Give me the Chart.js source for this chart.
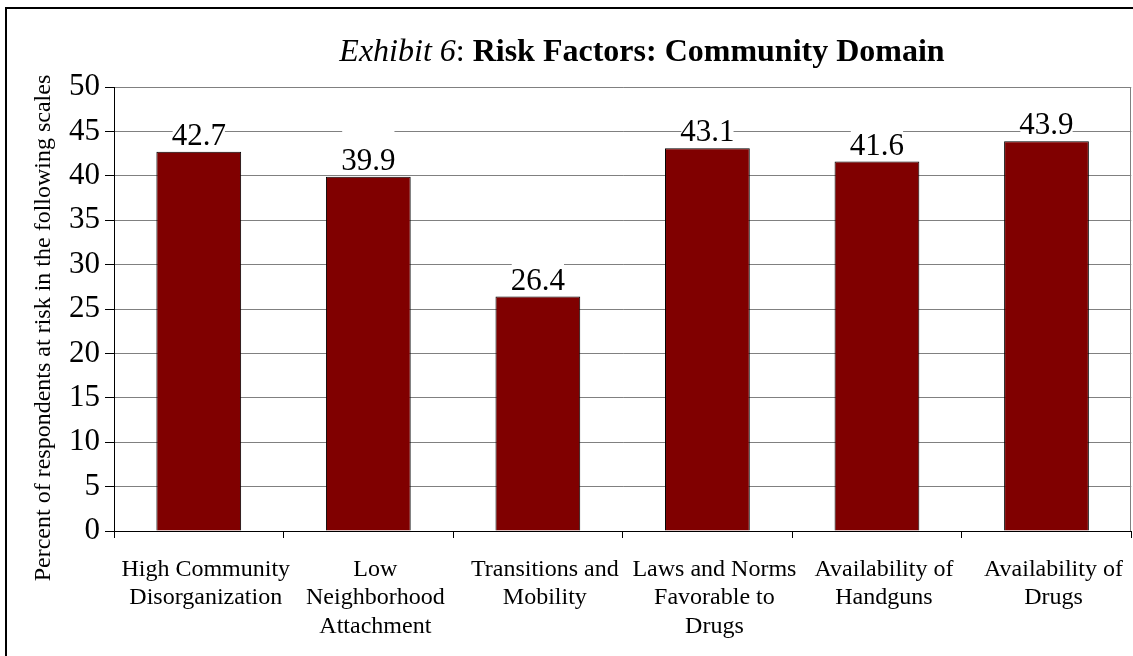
<!DOCTYPE html>
<html>
<head>
<meta charset="utf-8">
<script src="https://cdn.jsdelivr.net/npm/chart.js@4.4.1/dist/chart.umd.min.js"></script>
<style>
  html, body { margin: 0; padding: 0; background: #fff; }
  #wrap { position: relative; width: 1133px; height: 656px; }
</style>
</head>
<body>
<div id="wrap"><canvas id="chart"></canvas></div>
<script>
// Community-domain risk factors: share of respondents at risk on each scale
const categories = [
  ['High Community', 'Disorganization'],
  ['Low', 'Neighborhood', 'Attachment'],
  ['Transitions and', 'Mobility'],
  ['Laws and Norms', 'Favorable to', 'Drugs'],
  ['Availability of', 'Handguns'],
  ['Availability of', 'Drugs']
];
const percentAtRisk = [42.7, 39.9, 26.4, 43.1, 41.6, 43.9];
const yTicks = [0, 5, 10, 15, 20, 25, 30, 35, 40, 45, 50];

const titleItalic = 'Exhibit 6';
const titleSep = ': ';
const titleBold = 'Risk Factors: Community Domain';
const yAxisTitle = 'Percent of respondents at risk in the following scales';

const SERIF = '"Liberation Serif", "Times New Roman", serif';

// Outer frame, mixed-style heading, axis title and plot edge
const decorations = {
  id: 'decorations',
  beforeDraw(chart) {
    const ctx = chart.ctx;
    ctx.save();
    ctx.fillStyle = '#fff';
    ctx.fillRect(0, 0, chart.width, chart.height);
    ctx.strokeStyle = '#000';
    ctx.lineWidth = 2;
    ctx.strokeRect(6, 8, chart.width + 20, chart.height + 20);
    ctx.restore();
  },
  afterDraw(chart) {
    const ctx = chart.ctx;
    const area = chart.chartArea;
    ctx.save();
    // heading
    const fItalic = 'italic 32px ' + SERIF;
    const fReg = '32px ' + SERIF;
    const fBold = 'bold 32px ' + SERIF;
    ctx.font = fItalic; const w1 = ctx.measureText(titleItalic).width;
    ctx.font = fReg; const w2 = ctx.measureText(titleSep).width;
    ctx.font = fBold; const w3 = ctx.measureText(titleBold).width;
    let x = 642 - (w1 + w2 + w3) / 2;
    const y = 61;
    ctx.fillStyle = '#000';
    ctx.textBaseline = 'alphabetic';
    ctx.textAlign = 'left';
    ctx.font = fItalic; ctx.fillText(titleItalic, x, y); x += w1;
    ctx.font = fReg; ctx.fillText(titleSep, x, y); x += w2;
    ctx.font = fBold; ctx.fillText(titleBold, x, y);
    // vertical axis title
    ctx.save();
    ctx.translate(50, 328);
    ctx.rotate(-Math.PI / 2);
    ctx.font = '24px ' + SERIF;
    ctx.textAlign = 'center';
    ctx.fillText(yAxisTitle, 0, 0);
    ctx.restore();
    // right edge of plot
    ctx.strokeStyle = '#808080';
    ctx.lineWidth = 1;
    ctx.beginPath();
    ctx.moveTo(Math.round(area.right) - 0.5, area.top);
    ctx.lineTo(Math.round(area.right) - 0.5, area.bottom);
    ctx.stroke();
    ctx.restore();
  }
};

// Value labels above each bar on a white backing
const valueLabels = {
  id: 'valueLabels',
  afterDatasetsDraw(chart) {
    const ctx = chart.ctx;
    const meta = chart.getDatasetMeta(0);
    ctx.save();
    ctx.font = '31px ' + SERIF;
    ctx.textAlign = 'center';
    ctx.textBaseline = 'alphabetic';
    meta.data.forEach((bar, i) => {
      const txt = percentAtRisk[i].toFixed(1);
      const w = ctx.measureText(txt).width;
      const base = bar.y - 7;
      ctx.fillStyle = '#fff';
      ctx.fillRect(bar.x - w / 2 + 1, base - 42, w - 2, 42 + 5);
      ctx.fillStyle = '#000';
      ctx.fillText(txt, bar.x, base);
    });
    ctx.restore();
  }
};

new Chart(document.getElementById('chart'), {
  type: 'bar',
  data: {
    labels: categories,
    datasets: [{
      data: percentAtRisk,
      backgroundColor: '#800000',
      borderColor: '#000',
      borderWidth: 1,
      barPercentage: 0.5,
      categoryPercentage: 1.0
    }]
  },
  options: {
    responsive: true,
    maintainAspectRatio: false,
    animation: false,
    devicePixelRatio: 1,
    layout: { padding: { top: 87, left: 0, right: 1, bottom: 0 } },
    plugins: {
      legend: { display: false },
      tooltip: { enabled: false },
      title: { display: false }
    },
    scales: {
      x: {
        afterFit(scale) { scale.height = 125; },
        grid: {
          offset: true,
          drawOnChartArea: false,
          drawTicks: true,
          tickLength: 7,
          tickColor: '#000'
        },
        border: { color: '#000', width: 1 },
        ticks: {
          color: '#000',
          padding: 17,
          labelOffset: 7,
          maxRotation: 0,
          autoSkip: false,
          font: { family: SERIF, size: 24, lineHeight: 1.2 }
        }
      },
      y: {
        min: 0,
        max: 50,
        afterFit(scale) { scale.width = 114; },
        afterBuildTicks(scale) { scale.ticks = yTicks.map(v => ({ value: v })); },
        grid: {
          color: '#808080',
          tickColor: '#000',
          tickLength: 9,
          lineWidth: 1
        },
        border: { color: '#000', width: 1 },
        ticks: {
          color: '#000',
          padding: 5,
          font: { family: SERIF, size: 31 }
        }
      }
    }
  },
  plugins: [decorations, valueLabels]
});
</script>
</body>
</html>
